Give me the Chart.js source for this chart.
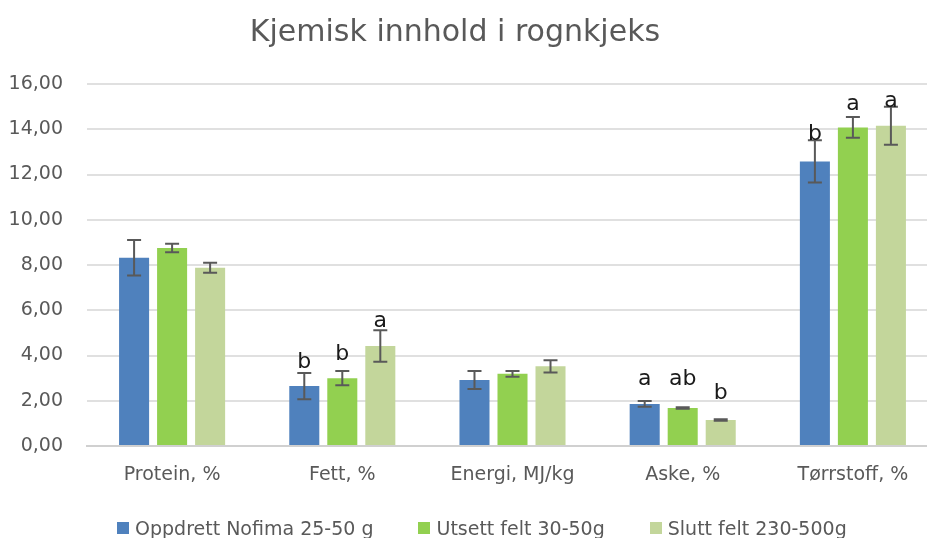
<!DOCTYPE html>
<html lang="no">
<head>
<meta charset="utf-8">
<title>Kjemisk innhold i rognkjeks</title>
<script src="https://cdn.jsdelivr.net/npm/chart.js@4/dist/chart.umd.min.js"></script>
<style>
  html, body { margin: 0; padding: 0; background: #ffffff; }
  #frame { position: relative; width: 927px; height: 538px; overflow: hidden; background: #ffffff; }
  #plot { position: absolute; left: 0; top: 0; width: 940px; height: 538px; }
  #title {
    position: absolute; left: 0; width: 910px; top: 16px;
    text-align: center; font: 30px/30px "DejaVu Sans", sans-serif; color: #595959;
  }
  #legend {
    position: absolute; left: 117px; top: 517px;
    display: flex; gap: 45px; font: 19px/22px "DejaVu Sans", sans-serif; color: #595959;
  }
  #legend .item { display: flex; align-items: center; white-space: nowrap; }
  #legend .swatch { width: 12px; height: 12px; margin-right: 6px; }
</style>
</head>
<body>
<div id="frame">
  <div id="plot"><canvas id="chart"></canvas></div>
  <div id="title">Kjemisk innhold i rognkjeks</div>
  <div id="legend"></div>
</div>
<script>
// Categories and series
const categories = ['Protein, %', 'Fett, %', 'Energi, MJ/kg', 'Aske, %', 'Tørrstoff, %'];
const seriesNames = ['Oppdrett Nofima 25-50 g', 'Utsett felt 30-50g', 'Slutt felt 230-500g'];

const oppdrettValues = [8.32, 2.65, 2.92, 1.86, 12.58];
const oppdrettErrors = [0.78, 0.58, 0.40, 0.13, 0.93];
const oppdrettLetters = ['', 'b', '', 'a', 'b'];

const utsettValues = [8.75, 3.00, 3.19, 1.68, 14.08];
const utsettErrors = [0.19, 0.31, 0.13, 0.03, 0.46];
const utsettLetters = ['', 'b', '', 'ab', 'a'];

const sluttValues = [7.88, 4.42, 3.52, 1.15, 14.15];
const sluttErrors = [0.22, 0.70, 0.27, 0.03, 0.84];
const sluttLetters = ['', 'a', '', 'b', 'a'];

const yTicks = [0, 2, 4, 6, 8, 10, 12, 14, 16];

const colors = ['#4f81bd', '#92d050', '#c3d69b'];

// Pixel lift of each significance letter above its error bar top
const letterLift = [
  [0, 5, 0, 16, 0],
  [0, 11, 0, 22, 7],
  [0, 3, 0, 20, 0]
];

const datasets = [
  { label: seriesNames[0], data: oppdrettValues, errors: oppdrettErrors, letters: oppdrettLetters },
  { label: seriesNames[1], data: utsettValues, errors: utsettErrors, letters: utsettLetters },
  { label: seriesNames[2], data: sluttValues, errors: sluttErrors, letters: sluttLetters }
].map((d, i) => Object.assign(d, {
  backgroundColor: colors[i],
  borderWidth: 0,
  categoryPercentage: 0.67,
  barPercentage: 0.79
}));

// Error bars and letters drawn on top of the bars
const errorBarPlugin = {
  id: 'errorBars',
  afterDatasetsDraw(chart) {
    const ctx = chart.ctx;
    const y = chart.scales.y;
    chart.data.datasets.forEach((ds, di) => {
      const meta = chart.getDatasetMeta(di);
      meta.data.forEach((bar, i) => {
        const v = ds.data[i], e = ds.errors[i];
        const top = y.getPixelForValue(v + e);
        const bot = y.getPixelForValue(v - e);
        const x = bar.x;
        ctx.save();
        ctx.strokeStyle = '#595959';
        ctx.lineWidth = 2;
        ctx.beginPath();
        ctx.moveTo(x, top); ctx.lineTo(x, bot);
        ctx.moveTo(x - 7, top); ctx.lineTo(x + 7, top);
        ctx.moveTo(x - 7, bot); ctx.lineTo(x + 7, bot);
        ctx.stroke();
        const letter = ds.letters[i];
        if (letter) {
          ctx.fillStyle = '#1a1a1a';
          ctx.font = '22px "DejaVu Sans", sans-serif';
          ctx.textAlign = 'center';
          ctx.textBaseline = 'alphabetic';
          ctx.fillText(letter, x, top - letterLift[di][i]);
        }
        ctx.restore();
      });
    });
  }
};

const chart = new Chart(document.getElementById('chart'), {
  type: 'bar',
  data: { labels: categories, datasets: datasets },
  plugins: [errorBarPlugin],
  options: {
    responsive: true,
    maintainAspectRatio: false,
    animation: false,
    layout: { padding: { top: 84, right: 2, bottom: 0, left: 0 } },
    plugins: {
      legend: { display: false },
      title: { display: false },
      tooltip: { enabled: false }
    },
    scales: {
      x: {
        grid: { display: false, drawTicks: false },
        border: { display: true, color: '#d0d0d0', width: 2 },
        ticks: {
          padding: 18,
          color: '#595959',
          font: { family: 'DejaVu Sans', size: 19 },
          maxRotation: 0
        },
        afterFit(scale) { scale.height = 92; }
      },
      y: {
        min: 0,
        max: 16,
        afterBuildTicks(scale) { scale.ticks = yTicks.map(v => ({ value: v })); },
        grid: { color: '#e0e0e0', lineWidth: 2, drawTicks: false },
        border: { display: false },
        ticks: {
          padding: 24,
          color: '#595959',
          font: { family: 'DejaVu Sans', size: 19 },
          callback: v => v.toFixed(2).replace('.', ',')
        },
        afterFit(scale) { scale.width = 87; }
      }
    }
  }
});

// Legend built from the chart's datasets
const legend = document.getElementById('legend');
chart.data.datasets.forEach(ds => {
  const item = document.createElement('div');
  item.className = 'item';
  const sw = document.createElement('span');
  sw.className = 'swatch';
  sw.style.background = ds.backgroundColor;
  const txt = document.createElement('span');
  txt.textContent = ds.label;
  item.appendChild(sw);
  item.appendChild(txt);
  legend.appendChild(item);
});
</script>
</body>
</html>
